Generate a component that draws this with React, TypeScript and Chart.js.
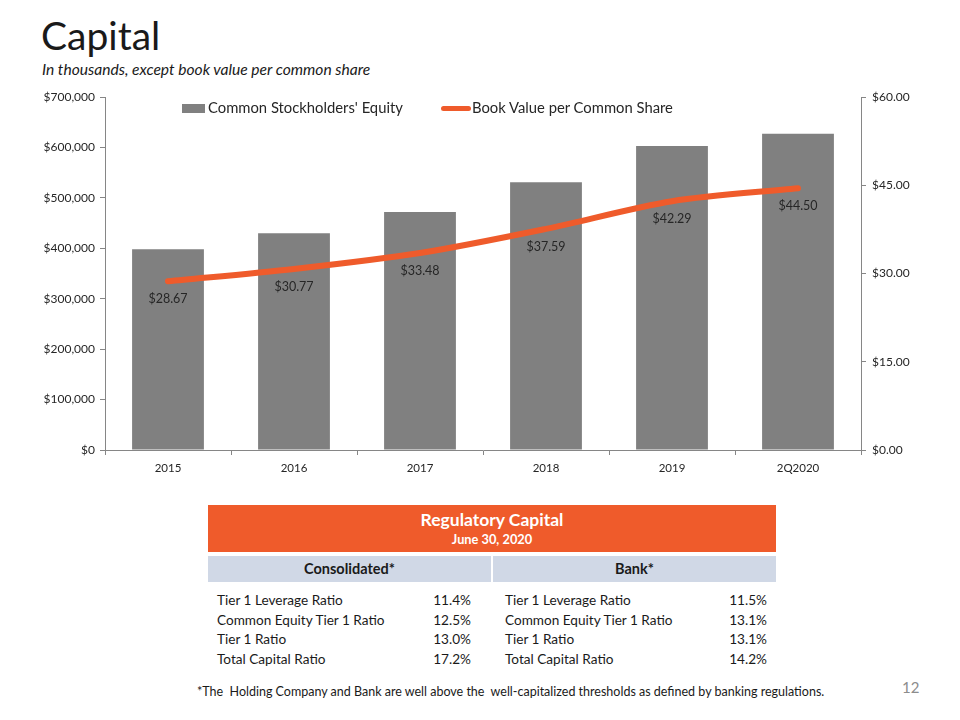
import React, { useEffect, useRef } from "react";
import { Chart, registerables } from "chart.js";

Chart.register(...registerables);

const categories = ["2015", "2016", "2017", "2018", "2019", "2Q2020"];
const equity = [398000, 430000, 472000, 531000, 603000, 627000];
const bookValue = [28.67, 30.77, 33.48, 37.59, 42.29, 44.5];
const equityLabel = "Common Stockholders' Equity";
const bookLabel = "Book Value per Common Share";

const consolidatedNames = ["Tier 1 Leverage Ratio", "Common Equity Tier 1 Ratio", "Tier 1 Ratio", "Total Capital Ratio"];
const consolidatedValues = ["11.4%", "12.5%", "13.0%", "17.2%"];
const bankNames = ["Tier 1 Leverage Ratio", "Common Equity Tier 1 Ratio", "Tier 1 Ratio", "Total Capital Ratio"];
const bankValues = ["11.5%", "13.1%", "13.1%", "14.2%"];

const FONT = "Lato, 'Open Sans', sans-serif";
const ORANGE = "#EF5B2B";
const GRAY_BAR = "#808080";
const AXIS = "#868686";

const labelPlugin = {
  id: "pointLabels",
  afterDatasetsDraw(chart: any) {
    const ctx = chart.ctx;
    const meta = chart.getDatasetMeta(1);
    ctx.save();
    ctx.font = `12.5px ${FONT}`;
    ctx.fillStyle = "#262626";
    ctx.textAlign = "center";
    ctx.textBaseline = "middle";
    meta.data.forEach((pt: any, i: number) => {
      ctx.fillText("$" + bookValue[i].toFixed(2), pt.x, pt.y + 18);
    });
    ctx.restore();
  },
};

function ChartBox() {
  const ref = useRef<HTMLCanvasElement>(null);
  useEffect(() => {
    if (!ref.current) return;
    const chart = new Chart(ref.current, {
      type: "bar",
      data: {
        labels: categories,
        datasets: [
          {
            type: "bar",
            label: equityLabel,
            data: equity,
            backgroundColor: GRAY_BAR,
            yAxisID: "y",
            order: 2,
            categoryPercentage: 1,
            barPercentage: 0.57,
          } as any,
          {
            type: "line",
            label: bookLabel,
            data: bookValue,
            borderColor: ORANGE,
            backgroundColor: ORANGE,
            borderWidth: 6,
            pointRadius: 0,
            tension: 0.3,
            borderCapStyle: "round",
            yAxisID: "y1",
            order: 1,
          } as any,
        ],
      },
      options: {
        responsive: false,
        animation: false,
        layout: { padding: { top: 17, left: 0, right: 0, bottom: 0 } },
        plugins: { legend: { display: false }, tooltip: { enabled: false } },
        scales: {
          x: {
            grid: { display: true, drawOnChartArea: false, drawTicks: true, tickLength: 5, color: AXIS, offset: true },
            border: { display: true, color: AXIS },
            ticks: { font: { family: FONT, size: 11.5 }, color: "#262626", padding: 6 },
            afterFit: (s: any) => { s.height = 30; },
          },
          y: {
            position: "left",
            min: 0,
            max: 700000,
            grid: { display: true, drawOnChartArea: false, drawTicks: true, tickLength: 5, color: AXIS },
            border: { display: true, color: AXIS },
            ticks: {
              stepSize: 100000,
              font: { family: FONT, size: 12 },
              color: "#262626",
              padding: 5,
              callback: (v: any) => "$" + Number(v).toLocaleString("en-US"),
            },
            afterFit: (s: any) => { s.width = 105; },
          },
          y1: {
            position: "right",
            min: 0,
            max: 60,
            grid: { display: true, drawOnChartArea: false, drawTicks: true, tickLength: 5, color: AXIS },
            border: { display: true, color: AXIS },
            ticks: {
              stepSize: 15,
              font: { family: FONT, size: 12 },
              color: "#262626",
              padding: 6,
              callback: (v: any) => "$" + Number(v).toFixed(2),
            },
            afterFit: (s: any) => { s.width = 99; },
          },
        },
      } as any,
      plugins: [labelPlugin],
    });
    return () => chart.destroy();
  }, []);
  return <canvas ref={ref} width={960} height={400} style={{ position: "absolute", left: 0, top: 80, width: 960, height: 400 }} />;
}

export default function App() {
  const txt = "#1a1a1a";
  const rowFont = 13.6;
  return (
    <div style={{ position: "fixed", left: 0, top: 0, width: 960, height: 720, background: "#fff", fontFamily: FONT, color: txt, overflow: "hidden" }}>
      <div style={{ position: "absolute", left: 41, top: 12, fontSize: 39, lineHeight: "46px" }}>Capital</div>
      <div style={{ position: "absolute", left: 42, top: 60, fontSize: 15.6, fontStyle: "italic", lineHeight: "19px" }}>
        In thousands,  except book value per common share
      </div>
      <ChartBox />
      {/* Legend */}
      <div style={{ position: "absolute", left: 182, top: 104, width: 23, height: 9, background: GRAY_BAR }} />
      <div style={{ position: "absolute", left: 208, top: 98, fontSize: 14.8, lineHeight: "19px", color: "#262626" }}>{equityLabel}</div>
      <div style={{ position: "absolute", left: 441, top: 106, width: 30, height: 5, borderRadius: 3, background: ORANGE }} />
      <div style={{ position: "absolute", left: 472, top: 98, fontSize: 14.8, lineHeight: "19px", color: "#262626" }}>{bookLabel}</div>

      {/* Regulatory capital table */}
      <div style={{ position: "absolute", left: 208, top: 505, width: 568, height: 47, background: ORANGE, color: "#fff", textAlign: "center", fontWeight: 700 }}>
        <div style={{ fontSize: 17.5, lineHeight: "20px", marginTop: 5 }}>Regulatory Capital</div>
        <div style={{ fontSize: 12.8, lineHeight: "15px", marginTop: 2 }}>June 30, 2020</div>
      </div>
      <div style={{ position: "absolute", left: 208, top: 556, width: 283, height: 26, background: "#D0D8E6", fontWeight: 700, fontSize: 14.5, lineHeight: "26px", textAlign: "center" }}>Consolidated*</div>
      <div style={{ position: "absolute", left: 493, top: 556, width: 283, height: 26, background: "#D0D8E6", fontWeight: 700, fontSize: 14.5, lineHeight: "26px", textAlign: "center" }}>Bank*</div>
      {consolidatedNames.map((n, i) => (
        <React.Fragment key={"c" + i}>
          <div style={{ position: "absolute", left: 217, top: 591 + i * 19.7, fontSize: rowFont, lineHeight: "19px" }}>{n}</div>
          <div style={{ position: "absolute", left: 400, width: 71, top: 591 + i * 19.7, fontSize: rowFont, lineHeight: "19px", textAlign: "right" }}>{consolidatedValues[i]}</div>
        </React.Fragment>
      ))}
      {bankNames.map((n, i) => (
        <React.Fragment key={"b" + i}>
          <div style={{ position: "absolute", left: 505, top: 591 + i * 19.7, fontSize: rowFont, lineHeight: "19px" }}>{n}</div>
          <div style={{ position: "absolute", left: 696, width: 71, top: 591 + i * 19.7, fontSize: rowFont, lineHeight: "19px", textAlign: "right" }}>{bankValues[i]}</div>
        </React.Fragment>
      ))}
      <div style={{ position: "absolute", left: 197, top: 683, fontSize: 12.5, lineHeight: "17px", whiteSpace: "pre" }}>
        *The  Holding Company and Bank are well above the  well-capitalized thresholds as defined by banking regulations.
      </div>
      <div style={{ position: "absolute", left: 902, top: 678, fontSize: 15, lineHeight: "19px", color: "#8c8c8c" }}>12</div>
    </div>
  );
}
